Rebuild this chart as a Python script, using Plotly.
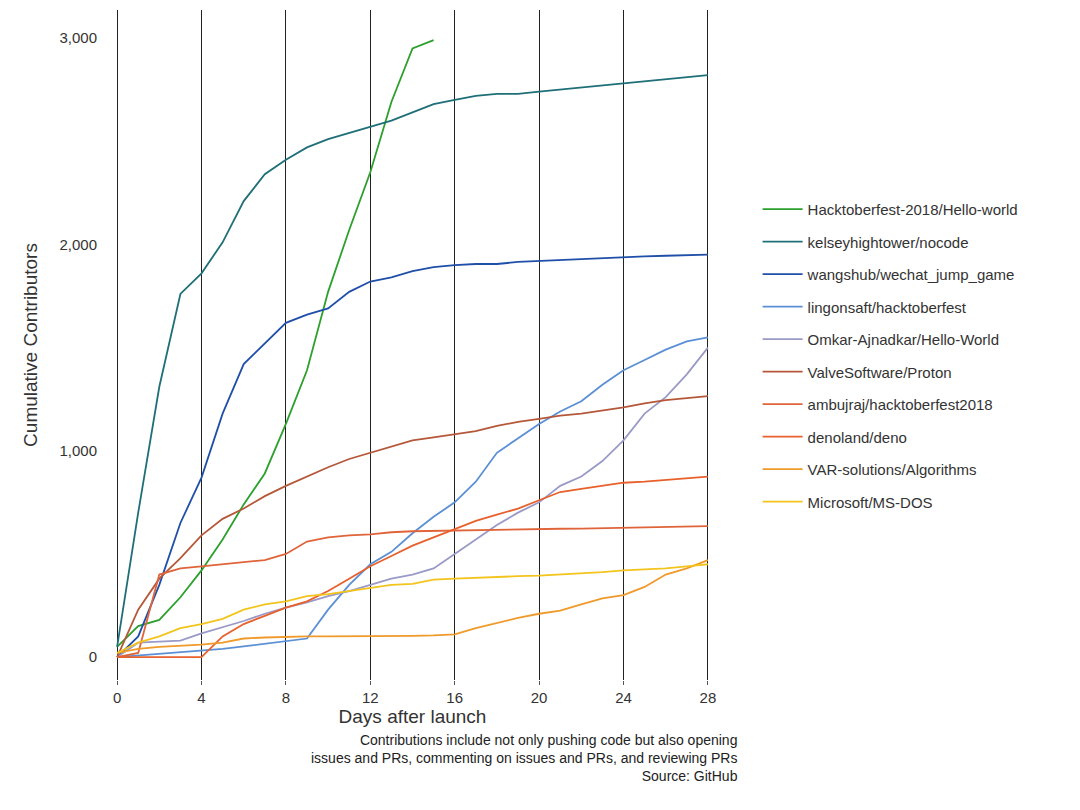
import plotly.graph_objects as go

days = list(range(29))
names = ["Hacktoberfest-2018/Hello-world", "kelseyhightower/nocode", "wangshub/wechat_jump_game",
         "lingonsaft/hacktoberfest", "Omkar-Ajnadkar/Hello-World", "ValveSoftware/Proton",
         "ambujraj/hacktoberfest2018", "denoland/deno", "VAR-solutions/Algorithms", "Microsoft/MS-DOS"]
colors = ["#2ca02c", "#1f6f78", "#1f4fa8", "#5b8fd6", "#9a9ac8", "#b5583a",
          "#e0643a", "#e8602c", "#ef9a2a", "#f2c41c"]

hello_world = [50,150,180,290,420,570,740,890,1130,1390,1770,2070,2350,2690,2950,2990]
nocode = [50,700,1310,1760,1860,2010,2210,2340,2410,2470,2510,2540,2570,2600,2640,2680,2700,2720,2730,2730,2740,2750,2760,2770,2780,2790,2800,2810,2820]
wechat = [0,100,350,650,870,1180,1420,1520,1620,1660,1690,1770,1820,1840,1870,1890,1900,1905,1905,1915,1920,1925,1930,1935,1940,1942,1945,1948,1950]
lingonsaft = [0,8,15,22,30,40,52,64,77,90,230,350,450,510,600,680,750,850,990,1060,1130,1190,1240,1320,1390,1440,1490,1530,1550]
omkar = [0,70,75,80,115,145,175,210,240,265,295,320,350,380,400,430,500,570,640,700,750,830,875,950,1050,1180,1260,1370,1500]
proton = [0,230,380,480,590,670,720,780,830,875,920,960,990,1020,1050,1065,1080,1095,1120,1140,1155,1170,1180,1195,1210,1230,1245,1255,1265]
ambujraj = [0,20,400,430,440,450,460,470,500,560,580,590,595,605,610,612,615,617,619,620,621,622,623,625,627,628,630,632,635]
deno = [0,0,0,0,0,100,160,200,240,270,320,380,440,490,540,580,620,660,690,720,760,800,815,830,845,850,858,866,875]
var_alg = [20,40,50,55,60,70,90,95,98,100,100,100,100,102,103,105,110,140,165,190,210,225,255,285,300,340,400,430,470]
msdos = [20,70,100,140,160,185,230,255,270,295,305,320,335,350,355,375,380,385,388,392,395,400,405,412,420,425,430,440,450]
series = [hello_world, nocode, wechat, lingonsaft, omkar, proton, ambujraj, deno, var_alg, msdos]

fig = go.Figure()
for n, c, v in zip(names, colors, series):
    fig.add_trace(go.Scatter(x=days[:len(v)], y=v, mode="lines", name=n, legendgroup=n,
                             line=dict(color=c, width=1.8)))

font = "Liberation Sans"
fig.update_layout(
    width=1080, height=810, plot_bgcolor="white", paper_bgcolor="white",
    margin=dict(l=107, r=378, t=2, b=138, autoexpand=False),
    font=dict(family=font, color="#333", size=15),
    xaxis=dict(range=[-0.1, 28.1], tickvals=list(range(0, 29, 4)), showgrid=True,
               gridcolor="#222", gridwidth=1, zeroline=False, ticks="outside", ticklen=4,
               tickcolor="#555", title=dict(text="Days after launch", font=dict(size=19), standoff=4)),
    yaxis=dict(range=[-111, 3136], tickvals=[0, 1000, 2000, 3000], tickformat=",",
               showgrid=False, zeroline=False, ticks="outside", ticklen=14,
               tickcolor="#fff",
               title=dict(text="Cumulative Contributors", font=dict(size=19), standoff=16)),
    legend=dict(x=1.08, y=0.727, yanchor="top", xanchor="left", font=dict(size=15),
                tracegroupgap=10, itemwidth=40),
    showlegend=True,
)
fig.add_annotation(text="Contributions include not only pushing code but also opening<br>issues and PRs, commenting on issues and PRs, and reviewing PRs<br>Source: GitHub",
                   xref="paper", yref="paper", x=1.05, y=-0.075, xanchor="right", yanchor="top",
                   align="right", showarrow=False, font=dict(size=14, color="#222"))
fig.write_html("out.html")
